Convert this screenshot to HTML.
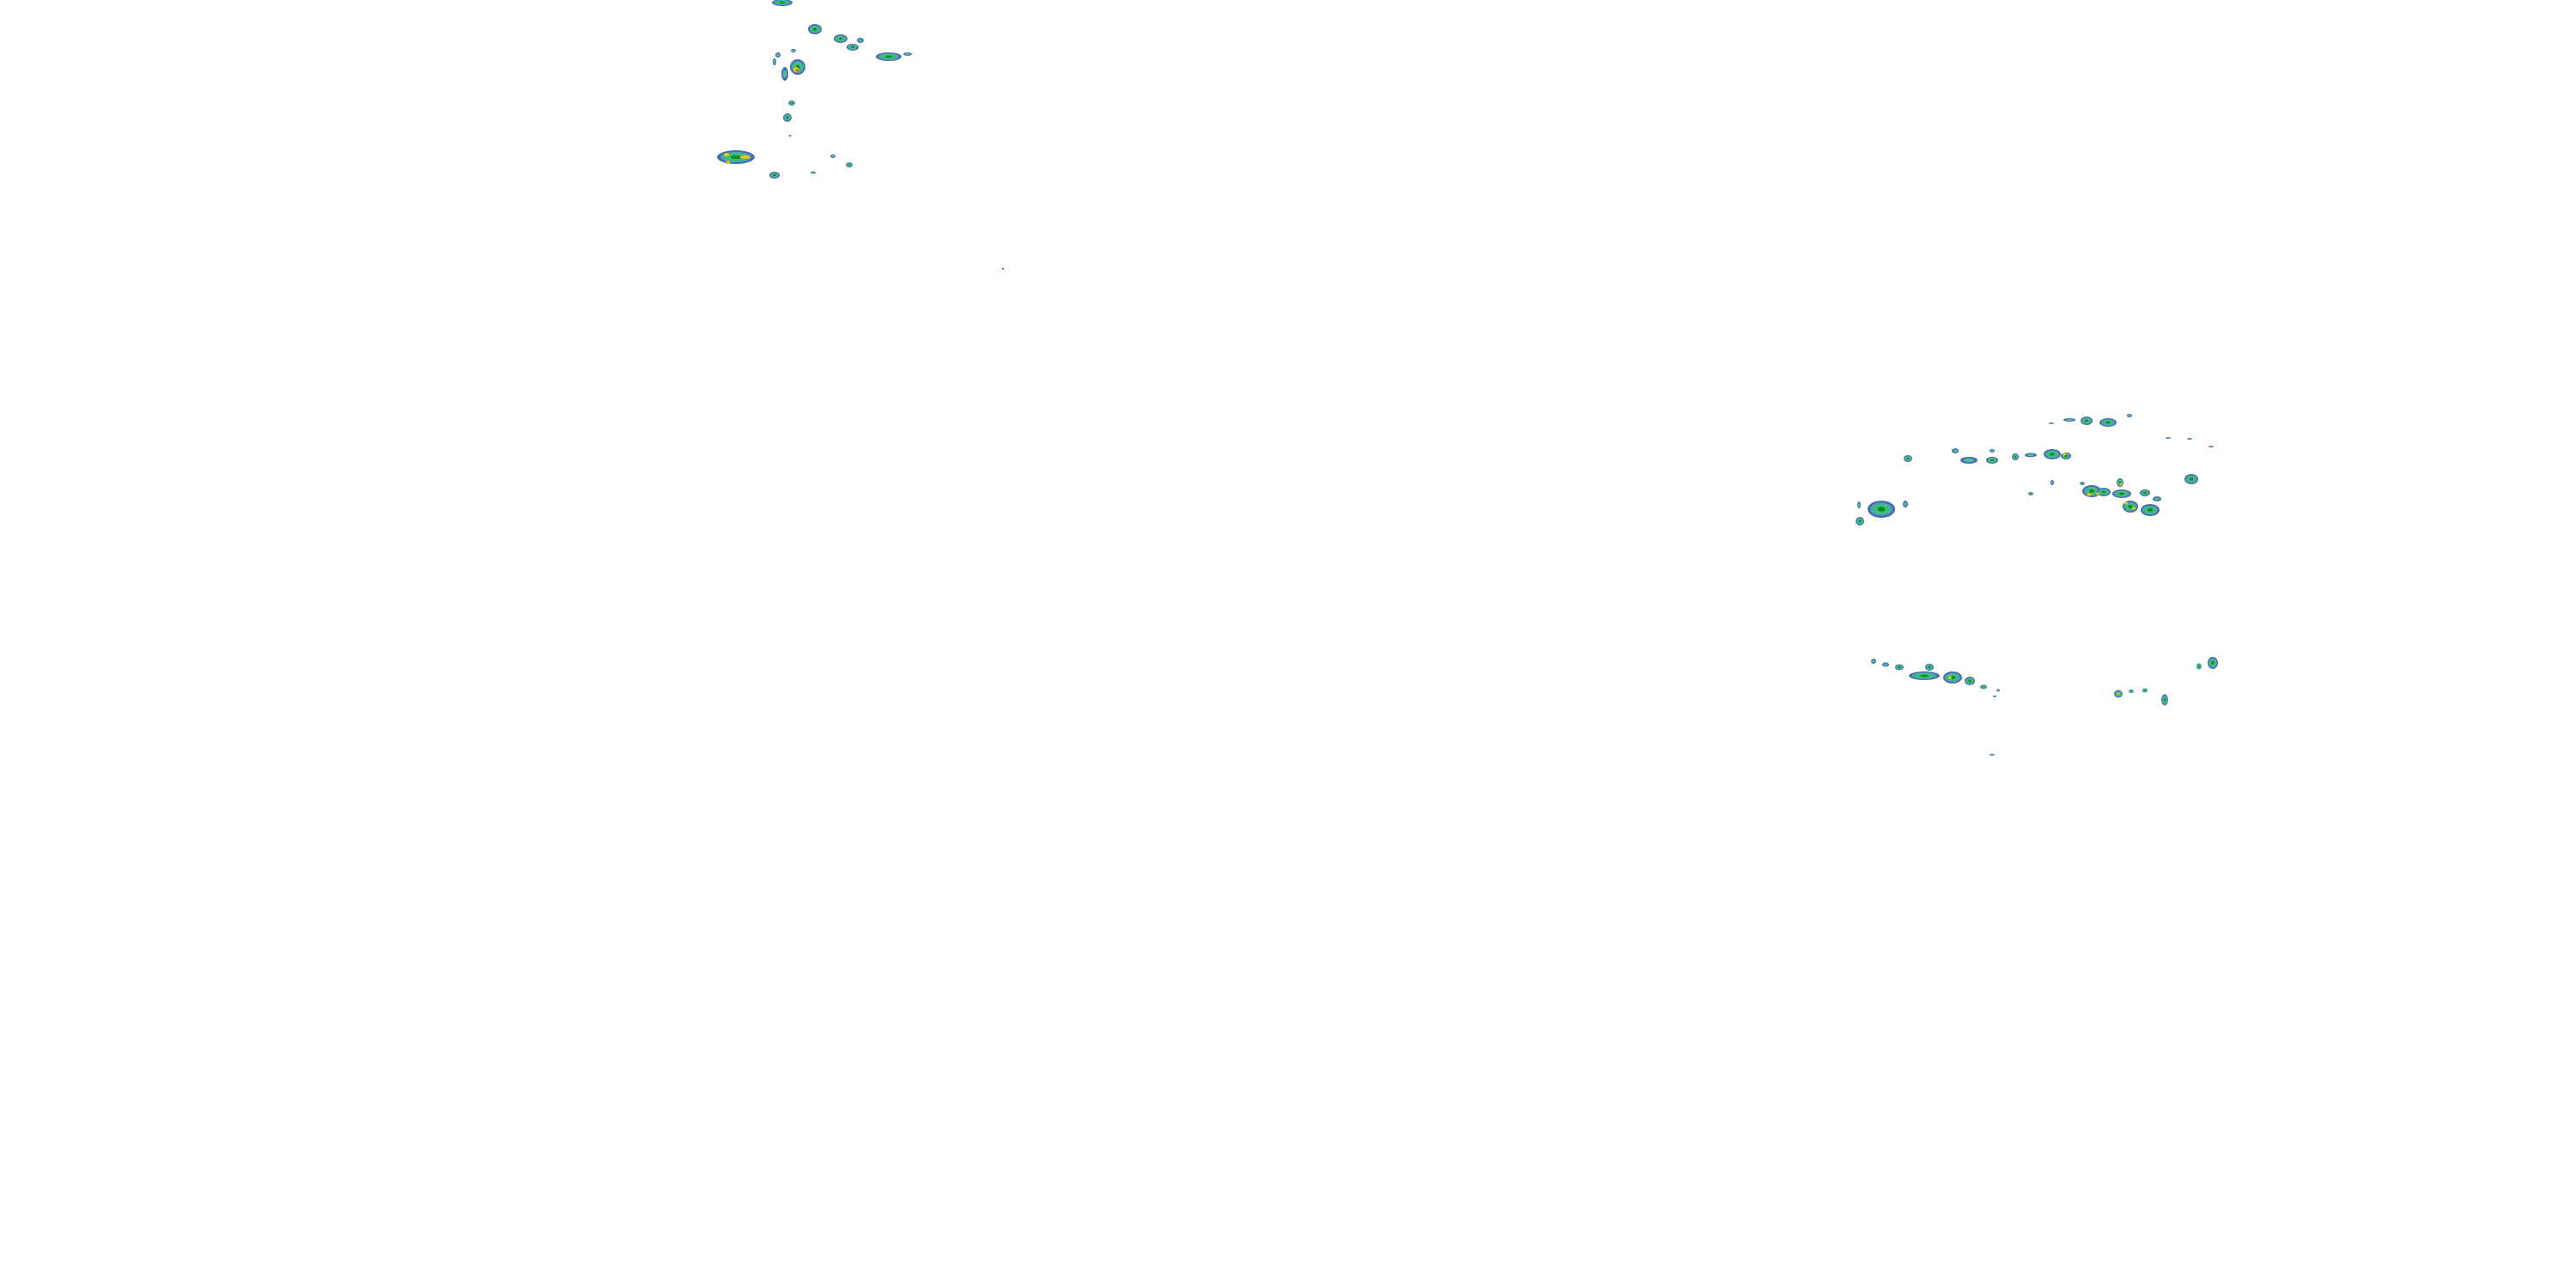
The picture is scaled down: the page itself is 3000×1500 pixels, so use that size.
<!DOCTYPE html>
<html><head><meta charset="utf-8"><style>html,body{margin:0;padding:0;background:#fff}svg{display:block}</style></head>
<body>
<svg width="3000" height="1500" viewBox="0 0 3000 1500" xmlns="http://www.w3.org/2000/svg">
<defs>
<g id="b">
<ellipse rx="1" ry="1" fill="#4a6db0"/>
<ellipse rx=".8" ry=".75" fill="#4aa8b0"/>
<ellipse rx=".55" ry=".5" fill="#3cc46a"/>
<ellipse rx=".28" ry=".28" fill="#0f8a2a"/>
</g>
<g id="s">
<ellipse rx="1" ry="1" fill="#4a6db0"/>
<ellipse rx=".6" ry=".55" fill="#4fb8a0"/>
</g>
</defs>
<g>
<!-- top-left cluster -->
<use href="#b" transform="translate(911,3) scale(12,4)"/>
<use href="#b" transform="translate(949,34) scale(8,6)"/>
<use href="#b" transform="translate(979,45) scale(8,5)"/>
<use href="#b" transform="translate(993,55) scale(7,4)"/>
<use href="#s" transform="translate(1002,47) scale(4,3)"/>
<use href="#b" transform="translate(1035,66) scale(15,5)"/>
<use href="#s" transform="translate(1057,63) scale(5,2)"/>
<use href="#b" transform="translate(929,78) scale(9,9)"/>
<ellipse cx="927" cy="81" rx="3" ry="3" fill="#f0c800"/>
<ellipse cx="928" cy="82" rx="1.2" ry="1.2" fill="#e03020"/>
<use href="#s" transform="translate(914,86) scale(4,8)"/>
<use href="#s" transform="translate(906,64) scale(3,3)"/>
<use href="#s" transform="translate(902,72) scale(2,4)"/>
<use href="#s" transform="translate(924,59) scale(3,2)"/>
<use href="#b" transform="translate(922,120) scale(4,3)"/>
<use href="#b" transform="translate(917,137) scale(5,5)"/>
<use href="#b" transform="translate(857,183) scale(22,8)"/>
<ellipse cx="868" cy="183" rx="6" ry="2" fill="#f0c800"/>
<ellipse cx="846" cy="180" rx="3" ry="2" fill="#f0c800"/>
<ellipse cx="848" cy="189" rx="2" ry="2" fill="#f0c800"/>
<use href="#b" transform="translate(902,204) scale(6,4)"/>
<use href="#s" transform="translate(970,182) scale(3,2)"/>
<use href="#b" transform="translate(989,192) scale(4,3)"/>
<use href="#s" transform="translate(947,201) scale(3,1.5)"/>
<use href="#s" transform="translate(920,158) scale(1.5,1)"/>
<rect x="1167" y="312" width="2" height="2" fill="#4a6db0"/>
<!-- right upper arc -->
<use href="#b" transform="translate(2430,490) scale(7,5)"/>
<use href="#s" transform="translate(2410,489) scale(7,2)"/>
<use href="#b" transform="translate(2455,492) scale(10,5)"/>
<use href="#s" transform="translate(2480,484) scale(3,2)"/>
<use href="#s" transform="translate(2389,493) scale(3,1)"/>
<use href="#s" transform="translate(2525,510) scale(3,1)"/>
<use href="#s" transform="translate(2550,511) scale(3,1)"/>
<use href="#s" transform="translate(2575,520) scale(3,1)"/>
<use href="#b" transform="translate(2222,534) scale(5,4)"/>
<use href="#s" transform="translate(2277,525) scale(4,3)"/>
<use href="#s" transform="translate(2293,536) scale(10,4)"/>
<use href="#b" transform="translate(2320,536) scale(7,4)"/>
<use href="#s" transform="translate(2320,525) scale(3,2)"/>
<use href="#b" transform="translate(2347,532) scale(4,4)"/>
<use href="#s" transform="translate(2365,530) scale(7,2.5)"/>
<use href="#b" transform="translate(2390,529) scale(10,6)"/>
<use href="#b" transform="translate(2406,531) scale(6,4)"/>
<ellipse cx="2404" cy="529" rx="2" ry="1.5" fill="#f0c800"/>
<use href="#b" transform="translate(2552,558) scale(8,6)"/>
<use href="#b" transform="translate(2436,572) scale(11,7)"/>
<ellipse cx="2433" cy="576" rx="3" ry="1.5" fill="#f0c800"/>
<use href="#b" transform="translate(2450,573) scale(8,5)"/>
<ellipse cx="2443" cy="575" rx="2" ry="1.5" fill="#f0c800"/>
<use href="#b" transform="translate(2471,575) scale(11,5)"/>
<use href="#b" transform="translate(2469,562) scale(4,5)"/>
<ellipse cx="2470" cy="564" rx="1.5" ry="1.5" fill="#f0c800"/>
<use href="#b" transform="translate(2481,590) scale(9,7)"/>
<ellipse cx="2476" cy="586" rx="2" ry="1.5" fill="#f0c800"/>
<ellipse cx="2485" cy="592" rx="2" ry="1.5" fill="#f0c800"/>
<use href="#b" transform="translate(2498,574) scale(6,4)"/>
<use href="#b" transform="translate(2504,594) scale(11,7)"/>
<use href="#s" transform="translate(2512,581) scale(5,3)"/>
<use href="#b" transform="translate(2425,563) scale(3,2)"/>
<use href="#b" transform="translate(2365,575) scale(3,2)"/>
<use href="#s" transform="translate(2390,562) scale(2,3)"/>
<use href="#b" transform="translate(2191,593) scale(16,10)"/>
<use href="#b" transform="translate(2166,607) scale(5,5)"/>
<use href="#s" transform="translate(2219,587) scale(3,4)"/>
<use href="#s" transform="translate(2165,588) scale(2,4)"/>
<!-- right lower arc -->
<use href="#s" transform="translate(2182,770) scale(3,3)"/>
<use href="#s" transform="translate(2196,774) scale(4,2.5)"/>
<use href="#b" transform="translate(2212,777) scale(5,3.5)"/>
<use href="#b" transform="translate(2241,787) scale(18,5)"/>
<use href="#b" transform="translate(2247,777) scale(5,4)"/>
<use href="#b" transform="translate(2274,789) scale(11,7)"/>
<ellipse cx="2271" cy="789" rx="2" ry="1.5" fill="#f0c800"/>
<use href="#b" transform="translate(2294,793) scale(6,5)"/>
<use href="#b" transform="translate(2310,800) scale(4,2.5)"/>
<use href="#s" transform="translate(2327,804) scale(2,1.5)"/>
<use href="#s" transform="translate(2323,811) scale(2,1)"/>
<use href="#b" transform="translate(2467,808) scale(5,4.5)"/>
<ellipse cx="2467" cy="808" rx="2" ry="1" fill="#f0c800"/>
<use href="#b" transform="translate(2482,805) scale(3,2)"/>
<use href="#b" transform="translate(2498,804) scale(3,2.5)"/>
<use href="#b" transform="translate(2521,815) scale(4,6.5)"/>
<use href="#b" transform="translate(2561,776) scale(3,3.5)"/>
<use href="#b" transform="translate(2577,772) scale(6,7)"/>
<use href="#s" transform="translate(2320,879) scale(3,1)"/>
</g>
</svg>
</body></html>
